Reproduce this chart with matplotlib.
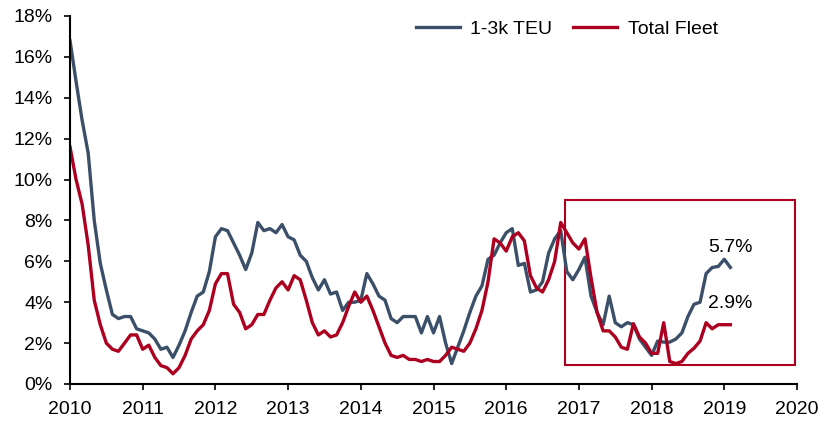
import matplotlib
matplotlib.use("Agg")

import matplotlib.pyplot as plt
import numpy as np
from matplotlib.patches import Rectangle

plt.rcParams["font.family"] = ["Liberation Sans", "DejaVu Sans"]

# Monatswerte ab Jan 2010 (in %)
teu_1_3k = [
    16.8, 14.8, 12.9, 11.3, 8.0, 5.9, 4.6, 3.4, 3.2, 3.3, 3.3, 2.7,
    2.6, 2.5, 2.2, 1.7, 1.8, 1.3, 1.9, 2.6, 3.5, 4.3, 4.5, 5.5,
    7.2, 7.6, 7.5, 6.9, 6.3, 5.6, 6.4, 7.9, 7.5, 7.6, 7.4, 7.8,
    7.2, 7.05, 6.3, 6.0, 5.2, 4.6, 5.1, 4.4, 4.5, 3.6, 4.0, 4.0,
    4.1, 5.4, 4.9, 4.3, 4.1, 3.2, 3.0, 3.3, 3.3, 3.3, 2.5, 3.3,
    2.5, 3.3, 2.0, 1.0, 1.8, 2.6, 3.5, 4.3, 4.8, 6.1, 6.3, 6.9,
    7.4, 7.6, 5.8, 5.9, 4.5, 4.6, 5.0, 6.4, 7.1, 7.5, 5.5, 5.1,
    5.6, 6.2, 4.3, 3.5, 2.9, 4.3, 3.0, 2.8, 3.0, 2.9, 2.2, 1.8,
    1.4, 2.1, 2.05, 2.05, 2.2, 2.5, 3.3, 3.9, 4.0, 5.4, 5.7, 5.75,
    6.1, 5.7,
]
total_fleet = [
    11.6, 10.0, 8.8, 6.8, 4.1, 2.9, 2.0, 1.7, 1.6, 2.0, 2.4, 2.4,
    1.7, 1.9, 1.3, 0.9, 0.8, 0.5, 0.8, 1.4, 2.2, 2.6, 2.9, 3.6,
    4.9, 5.4, 5.4, 3.9, 3.5, 2.7, 2.9, 3.4, 3.4, 4.1, 4.7, 5.0,
    4.6, 5.3, 5.1, 4.1, 3.0, 2.4, 2.6, 2.3, 2.4, 3.0, 3.8, 4.5,
    4.0, 4.3, 3.6, 2.8, 2.0, 1.4, 1.3, 1.4, 1.2, 1.2, 1.1, 1.2,
    1.1, 1.1, 1.4, 1.8, 1.7, 1.6, 2.0, 2.7, 3.6, 5.0, 7.1, 6.9,
    6.5, 7.2, 7.4, 7.0, 5.3, 4.7, 4.5, 5.1, 6.0, 7.9, 7.4, 6.9,
    6.6, 7.1, 5.2, 3.5, 2.6, 2.6, 2.3, 1.8, 1.7, 2.95, 2.3, 2.0,
    1.5, 1.5, 3.0, 1.1, 1.0, 1.1, 1.5, 1.75, 2.1, 3.0, 2.7, 2.9,
    2.9, 2.9,
]
years = list(range(2010, 2021))
y_ticks = list(range(0, 19, 2))

BLUE = "#3b4f69"
RED = "#ad0020"
FS = 14

t = 2010 + np.arange(len(teu_1_3k)) / 12.0

fig = plt.figure(figsize=(8.21, 4.22), dpi=100)
ax = fig.add_axes([70 / 821, 1 - 384 / 422, 727 / 821, 368 / 422])

ax.plot(t, teu_1_3k, color=BLUE, linewidth=2.4, label="1-3k TEU")
ax.plot(t, total_fleet, color=RED, linewidth=2.4, label="Total Fleet")

# Markierter Bereich 2017-2019
ax.add_patch(Rectangle((2016.81, 0.93), 3.16, 8.07, fill=False,
                       edgecolor=RED, linewidth=1.5, clip_on=False))

# Letzte Werte beschriften
ax.text(2018.78, teu_1_3k[-1] + 1.0, f"{teu_1_3k[-1]:.1f}%", fontsize=FS,
        ha="left", va="center")
ax.text(2018.78, total_fleet[-1] + 1.06, f"{total_fleet[-1]:.1f}%", fontsize=FS,
        ha="left", va="center")

ax.set_xlim(2010, 2020)
ax.set_ylim(0, 18)
ax.set_xticks(years)
ax.set_xticklabels([str(y) for y in years])
ax.set_yticks(y_ticks)
ax.set_yticklabels([f"{v}%" for v in y_ticks])
ax.tick_params(labelsize=FS, width=1.2, length=4.5, direction="out")
ax.tick_params(axis="x", pad=8)
ax.tick_params(axis="y", pad=8)

for side in ["top", "right"]:
    ax.spines[side].set_visible(False)
for side in ["left", "bottom"]:
    ax.spines[side].set_linewidth(1.5)

ax.legend(loc="upper left", bbox_to_anchor=(416 / 821, 1 - 20 / 422),
          bbox_transform=fig.transFigure, ncol=2, frameon=False,
          fontsize=FS, handlelength=2.27, handletextpad=0.52,
          columnspacing=1.08, borderpad=0, borderaxespad=0)

fig.savefig("out.png", dpi=100)
